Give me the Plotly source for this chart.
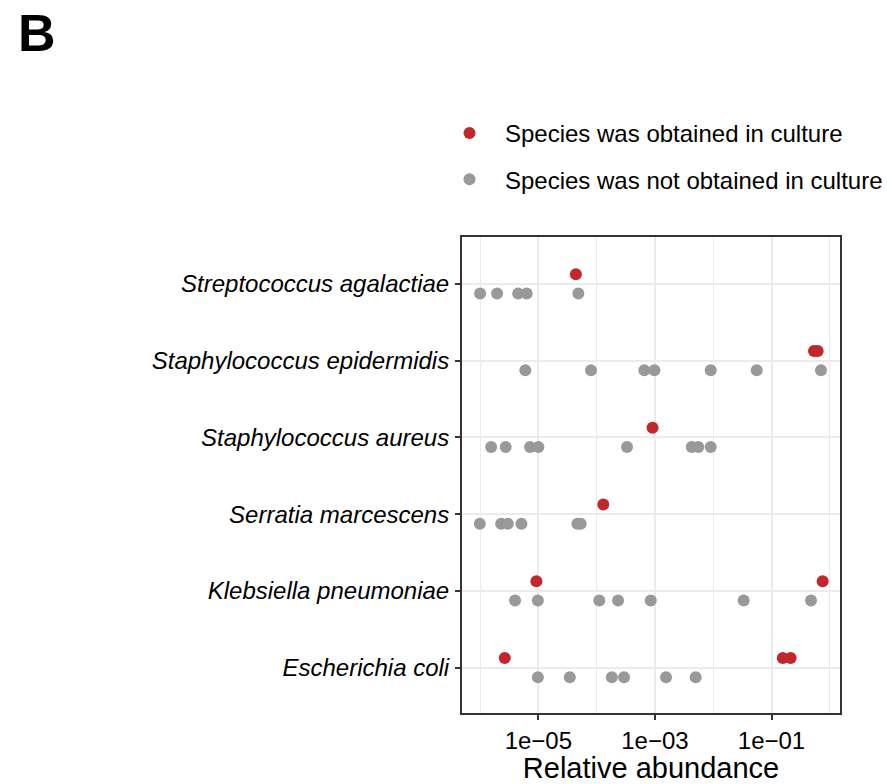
import plotly.graph_objects as go

# ---- data ----
species = ["Escherichia coli", "Klebsiella pneumoniae", "Serratia marcescens",
           "Staphylococcus aureus", "Staphylococcus epidermidis", "Streptococcus agalactiae"]

cultured = {
    "Escherichia coli": [2.65e-6, 0.156, 0.213],
    "Klebsiella pneumoniae": [9.25e-6, 0.755],
    "Serratia marcescens": [1.3e-4],
    "Staphylococcus aureus": [9.1e-4],
    "Staphylococcus epidermidis": [0.536, 0.62],
    "Streptococcus agalactiae": [4.4e-5],
}
not_cultured = {
    "Escherichia coli": [9.8e-6, 3.46e-5, 1.82e-4, 2.95e-4, 1.55e-3, 5.0e-3],
    "Klebsiella pneumoniae": [3.98e-6, 9.8e-6, 1.11e-4, 2.33e-4, 8.47e-4, 0.0333, 0.476],
    "Serratia marcescens": [9.9e-7, 2.3e-6, 2.99e-6, 5.13e-6, 4.67e-5, 5.32e-5],
    "Staphylococcus aureus": [1.55e-6, 2.75e-6, 7.2e-6, 1.0e-5, 3.32e-4, 4.28e-3, 5.55e-3, 9.06e-3],
    "Staphylococcus epidermidis": [5.98e-6, 8.0e-5, 6.58e-4, 9.8e-4, 9.06e-3, 0.0557, 0.706],
    "Streptococcus agalactiae": [1.0e-6, 1.96e-6, 4.5e-6, 6.3e-6, 4.85e-5],
}
labels = ["Species was obtained in culture", "Species was not obtained in culture"]
colors = ["#C1272D", "#999999"]
xtick_vals = [1e-5, 1e-3, 1e-1]
xtick_text = ["1e\u221205", "1e\u221203", "1e\u221201"]

FONT = "Liberation Sans, Arial, sans-serif"
dodge = 0.125
PW, PH = 378, 476  # plot area size in px

fig = go.Figure()
for grp, lab, col, off in zip([cultured, not_cultured], labels, colors, [dodge, -dodge]):
    xs, ys = [], []
    for i, sp in enumerate(species):
        for v in grp[sp]:
            xs.append(v)
            ys.append(i + off)
    fig.add_trace(go.Scatter(
        x=xs, y=ys, mode="markers", name=lab, legendgroup=lab,
        marker=dict(color=col, size=12, line=dict(width=0)),
    ))

fig.update_layout(
    width=887, height=784,
    margin=dict(l=462, r=47, t=237, b=71, autoexpand=False),
    paper_bgcolor="white", plot_bgcolor="white",
    font=dict(family=FONT, size=24, color="black"),
    legend=dict(x=-0.045 - 11 / PW, y=1.265, xanchor="left", yanchor="top",
                font=dict(size=24, color="black"), itemwidth=61,
                tracegroupgap=12, bgcolor="rgba(0,0,0,0)"),
)
fig.add_annotation(text="<b>B</b>", xref="paper", yref="paper",
                   x=-462 / PW + 16 / PW, y=1 + (237 - 2) / PH,
                   xanchor="left", yanchor="top", showarrow=False,
                   font=dict(size=52, family=FONT, color="black"))

fig.update_xaxes(
    type="log", range=[-6.31, 0.175], automargin=False,
    tickvals=xtick_vals, ticktext=xtick_text,
    ticks="outside", ticklen=5, tickwidth=2, tickcolor="#333333",
    tickfont=dict(size=24, color="black"),
    showgrid=True, gridcolor="#ebebeb", gridwidth=1.5,
    minor=dict(tickvals=[1e-6, 1e-4, 1e-2, 1e0], showgrid=True,
               gridcolor="#ebebeb", gridwidth=1, ticks=""),
    showline=True, mirror=True, linecolor="#333333", linewidth=2,
    zeroline=False,
    title=dict(text="Relative abundance", font=dict(size=29, color="black"), standoff=4),
)
fig.update_yaxes(
    range=[-0.59, 5.61], automargin=False,
    tickvals=list(range(len(species))),
    ticktext=["<i>" + s + "</i>" for s in species],
    ticks="outside", ticklen=5, tickwidth=2, tickcolor="#333333",
    tickfont=dict(size=24, color="black"),
    showgrid=True, gridcolor="#ebebeb", gridwidth=1.5,
    showline=True, mirror=True, linecolor="#333333", linewidth=2,
    zeroline=False, ticklabelstandoff=1,
)

fig.write_html("out.html")
